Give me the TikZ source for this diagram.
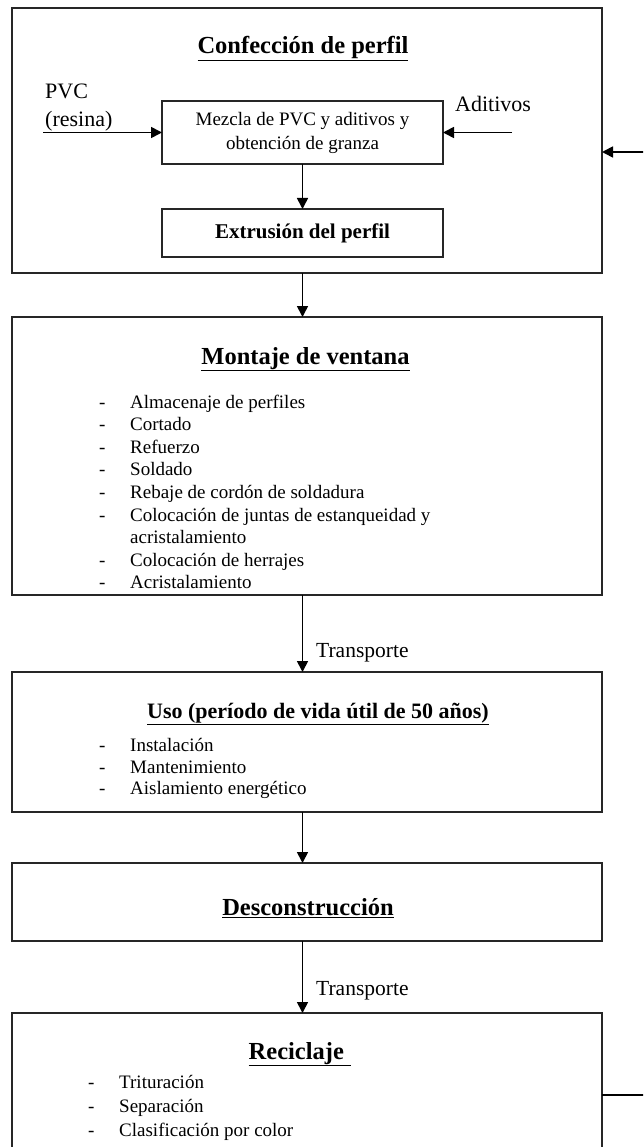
\documentclass[tikz,border=0pt]{standalone}
\usepackage{fontspec}
\setmainfont{Liberation Serif}
\usetikzlibrary{arrows.meta}
\newcommand{\dashitem}[1]{\makebox[31pt][l]{-}#1}
\tikzset{
  stage/.style={draw=black!85, line width=2pt, inner sep=0pt, outer sep=0pt, minimum width=590pt},
  inbox/.style={draw=black!85, line width=1.7pt, inner sep=0pt, outer sep=0pt, minimum width=281pt, align=center},
  ttl/.style={inner sep=0pt, anchor=base, font=\fontsize{24.5}{28}\selectfont\bfseries},
  lst/.style={inner sep=0pt, anchor=north west, align=left},
  lbl/.style={inner sep=0pt, font=\fontsize{21.5}{28}\selectfont},
  arr/.style={line width=1.7pt, -{Triangle[length=11pt,width=11pt]}},
  ln/.style={line width=1.7pt},
}
\begin{document}
\begin{tikzpicture}[x=1pt,y=-1pt]
\useasboundingbox (0,0) rectangle (643,1147);
\clip (0,0) rectangle (643,1147);
% stage boxes
\node[stage, minimum height=265pt] (conf) at (307,140.5) {};
\node[stage, minimum height=278pt] (mont) at (307,456) {};
\node[stage, minimum height=140pt] (uso) at (307,742) {};
\node[stage, minimum height=78pt] (desc) at (307,902) {};
\node[stage, minimum height=190pt] (recl) at (307,1108) {};
% titles
\node[ttl] (t1) at (303,54) {\underline{Confección de perfil}};
\node[ttl] (t2) at (305.5,364) {\underline{Montaje de ventana}};
\node[ttl, font=\fontsize{22}{26}\selectfont\bfseries] (t3) at (318,718.5) {\underline{Uso (período de vida útil de 50 años)}};
\node[ttl] (t4) at (308,915) {\underline{Desconstrucción}};
\node[ttl] (t5) at (300,1059) {\underline{Reciclaje\hspace{0.3em}}};
% inner boxes of first stage
\node[inbox, minimum height=63pt, font=\fontsize{19}{24}\selectfont] (mez) at (302.5,132.5) {Mezcla de PVC y aditivos y\\obtención de granza};
\node[inbox, minimum height=48pt, font=\fontsize{21}{24}\selectfont\bfseries] (extr) at (302.5,233) {Extrusión del perfil};
% inputs
\node[lbl, anchor=north west, align=left, font=\fontsize{22}{28}\selectfont] (pvc) at (45,83.5) {PVC\\(resina)};
\node[lbl, anchor=base west, font=\fontsize{22}{28}\selectfont] (adit) at (455,112) {Aditivos};
\coordinate (pvcin) at (43,132.5);
\coordinate (aditin) at (512,132.5);
\draw[arr] (pvcin) -- (mez.west);
\draw[arr] (aditin) -- (mez.east);
\draw[arr] (mez.south) -- (extr.north);
% lists
\node[lst, font=\fontsize{19}{22.6}\selectfont] (l2) at (99,394.5) {\dashitem{Almacenaje de perfiles}\\
\dashitem{Cortado}\\
\dashitem{Refuerzo}\\
\dashitem{Soldado}\\
\dashitem{Rebaje de cordón de soldadura}\\
\dashitem{Colocación de juntas de estanqueidad y}\\
\hspace*{31pt}acristalamiento\\
\dashitem{Colocación de herrajes}\\
\dashitem{Acristalamiento}};
\node[lst, font=\fontsize{19}{21.5}\selectfont] (l3) at (99,738.5) {\dashitem{Instalación}\\
\dashitem{Mantenimiento}\\
\dashitem{Aislamiento energético}};
\node[lst, font=\fontsize{19}{24}\selectfont] (l5) at (88,1075.5) {\dashitem{Trituración}\\
\dashitem{Separación}\\
\dashitem{Clasificación por color}};
% main flow
\draw[arr] (conf.south -| extr.south) -- (mont.north -| extr.south);
\draw[arr] (mont.south -| extr.south) -- (uso.north -| extr.south);
\draw[arr] (uso.south -| extr.south) -- (desc.north -| extr.south);
\draw[arr] (desc.south -| extr.south) -- (recl.north -| extr.south);
\node[lbl, anchor=base west] (tr1) at (316,657) {Transporte};
\node[lbl, anchor=base west] (tr2) at (316,995) {Transporte};
% feedback stubs
\coordinate (fbtop) at (650,152);
\coordinate (fbbot) at (650,1095);
\draw[ln] (recl.east |- fbbot) -- (fbbot);
\draw[arr] (fbtop) -- (fbtop -| conf.east);
\end{tikzpicture}
\end{document}
